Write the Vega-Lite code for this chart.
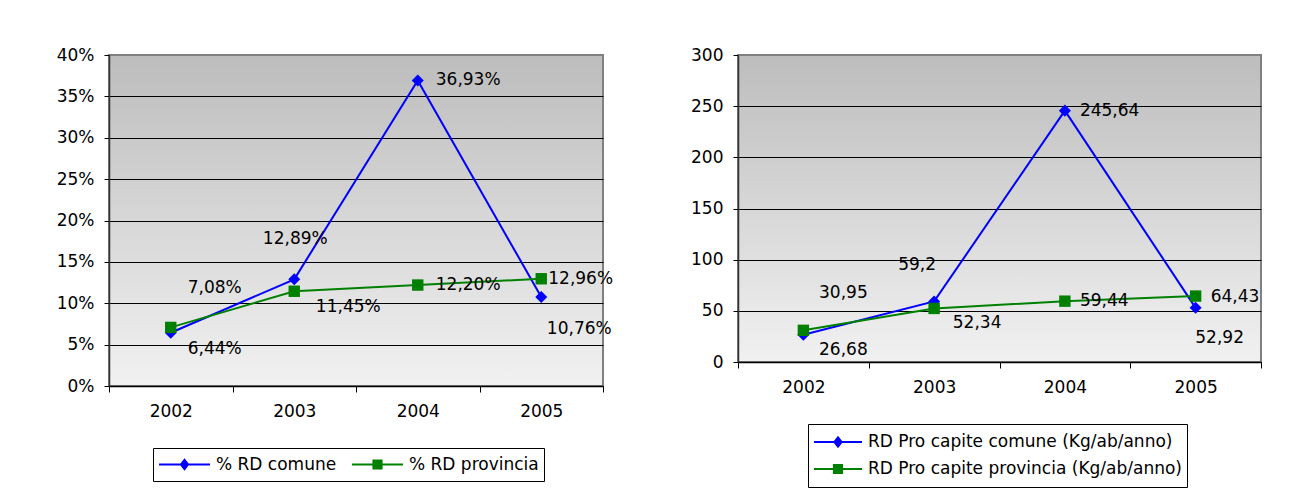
{
  "$schema": "https://vega.github.io/schema/vega-lite/v6.json",
  "autosize": {"type": "pad"},
  "padding": {"left": 55, "top": 45, "right": 5, "bottom": 5},
  "background": "#ffffff",
  "spacing": 135,
  "bounds": "flush",
  "resolve": {"scale": {"color": "independent", "x": "independent", "y": "independent"}, "legend": {"color": "independent"}},
  "config": {
    "locale": {"number": {"decimal": ",", "thousands": ".", "grouping": [3], "currency": ["€", ""]}},
    "font": "DejaVu Sans",
    "view": {
      "stroke": "#808080",
      "strokeWidth": 2,
      "fill": {"gradient": "linear", "x1": 0, "y1": 0, "x2": 0, "y2": 1, "stops": [{"offset": 0, "color": "#bdbdbd"}, {"offset": 1, "color": "#f1f1f1"}]}
    },
    "axis": {"labelFont": "DejaVu Sans", "labelFontSize": 17, "labelColor": "#000", "title": null},
    "legend": {"labelFont": "DejaVu Sans", "labelFontSize": 17, "labelColor": "#000", "labelLimit": 500}
  },
  "hconcat": [
    {
      "width": 494,
      "height": 331,
      "data": {"values": [
        {"year": "2002", "series": "% RD comune", "value": 0.0644},
        {"year": "2003", "series": "% RD comune", "value": 0.1289},
        {"year": "2004", "series": "% RD comune", "value": 0.3693},
        {"year": "2005", "series": "% RD comune", "value": 0.1076},
        {"year": "2002", "series": "% RD provincia", "value": 0.0708},
        {"year": "2003", "series": "% RD provincia", "value": 0.1145},
        {"year": "2004", "series": "% RD provincia", "value": 0.1220},
        {"year": "2005", "series": "% RD provincia", "value": 0.1296}
      ]},
      "encoding": {
        "x": {"field": "year", "type": "ordinal", "scale": {"type": "band", "paddingInner": 0, "paddingOuter": 0},
          "axis": {"labelAngle": 0, "tickBand": "extent", "grid": false, "domainColor": "#000", "domainWidth": 1.5, "tickColor": "#000", "tickSize": 6, "labelPadding": 11}},
        "y": {"field": "value", "type": "quantitative", "scale": {"domain": [0, 0.4], "nice": false},
          "axis": {"values": [0, 0.05, 0.1, 0.15, 0.2, 0.25, 0.3, 0.35, 0.4], "format": ".0%", "grid": true,
            "gridColor": {"condition": {"test": "datum.value >= 0.399 || datum.value <= 0.001", "value": "#808080"}, "value": "#000"},
            "gridWidth": 1, "domainColor": "#333", "domainWidth": 1.5, "tickColor": "#000", "tickSize": 5, "labelPadding": 10}}
      },
      "layer": [
        {
          "mark": {"type": "line", "strokeWidth": 2},
          "encoding": {
            "color": {"field": "series", "type": "nominal",
              "scale": {"domain": ["% RD comune", "% RD provincia"], "range": ["#0000FF", "#008000"]},
              "legend": {"title": null, "orient": "none", "legendX": 44, "legendY": 393, "direction": "horizontal",
                "strokeColor": "#000", "fillColor": "#fff", "padding": 5, "symbolType": "M-1,0H1", "symbolSize": 2601,
                "symbolStrokeWidth": 2, "clipHeight": 23, "labelOffset": 5, "columnPadding": 14,
                "encode": {"symbols": {"update": {
                  "shape": {"signal": "indexof(datum.value, 'comune') >= 0 ? 'M-1,0H1M0,-0.18L0.14,0L0,0.18L-0.14,0Z' : 'M-1,0H1M-0.16,-0.16H0.16V0.16H-0.16Z'"},
                  "fill": {"signal": "indexof(datum.value, 'comune') >= 0 ? '#0000FF' : '#008000'"},
                  "stroke": {"signal": "indexof(datum.value, 'comune') >= 0 ? '#0000FF' : '#008000'"},
                  "opacity": {"value": 1}
                }}}}
            }
          }
        },
        {"transform": [{"filter": "datum.series == '% RD comune'"}],
          "mark": {"type": "point", "shape": "diamond", "filled": true, "opacity": 1, "size": 145, "color": "#0000FF"}},
        {"transform": [{"filter": "datum.series == '% RD provincia'"}],
          "mark": {"type": "point", "shape": "square", "filled": true, "opacity": 1, "size": 130, "color": "#008000"}},
        {"transform": [{"filter": "datum.year == '2002' && datum.series == '% RD comune'"}],
          "mark": {"type": "text", "align": "center", "baseline": "middle", "dx": 44, "dy": 16, "fontSize": 17, "color": "#000"},
          "encoding": {"text": {"field": "value", "format": ".2%"}}},
        {"transform": [{"filter": "datum.year == '2002' && datum.series == '% RD provincia'"}],
          "mark": {"type": "text", "align": "center", "baseline": "middle", "dx": 44, "dy": -39, "fontSize": 17, "color": "#000"},
          "encoding": {"text": {"field": "value", "format": ".2%"}}},
        {"transform": [{"filter": "datum.year == '2003' && datum.series == '% RD comune'"}],
          "mark": {"type": "text", "align": "center", "baseline": "middle", "dx": 1, "dy": -40, "fontSize": 17, "color": "#000"},
          "encoding": {"text": {"field": "value", "format": ".2%"}}},
        {"transform": [{"filter": "datum.year == '2003' && datum.series == '% RD provincia'"}],
          "mark": {"type": "text", "align": "center", "baseline": "middle", "dx": 54, "dy": 16, "fontSize": 17, "color": "#000"},
          "encoding": {"text": {"field": "value", "format": ".2%"}}},
        {"transform": [{"filter": "datum.year == '2004'"}],
          "mark": {"type": "text", "align": "left", "baseline": "middle", "dx": 18, "dy": 0, "fontSize": 17, "color": "#000"},
          "encoding": {"text": {"field": "value", "format": ".2%"}}},
        {"transform": [{"filter": "datum.year == '2005' && datum.series == '% RD comune'"}],
          "mark": {"type": "text", "align": "center", "baseline": "middle", "dx": 38, "dy": 32, "fontSize": 17, "color": "#000"},
          "encoding": {"text": {"field": "value", "format": ".2%"}}},
        {"transform": [{"filter": "datum.year == '2005' && datum.series == '% RD provincia'"}],
          "mark": {"type": "text", "align": "left", "baseline": "middle", "dx": 7, "dy": 0, "fontSize": 17, "color": "#000"},
          "encoding": {"text": {"field": "value", "format": ".2%"}}}
      ]
    },
    {
      "width": 523,
      "height": 307,
      "data": {"values": [
        {"year": "2002", "series": "RD Pro capite comune (Kg/ab/anno)", "value": 26.68},
        {"year": "2003", "series": "RD Pro capite comune (Kg/ab/anno)", "value": 59.2},
        {"year": "2004", "series": "RD Pro capite comune (Kg/ab/anno)", "value": 245.64},
        {"year": "2005", "series": "RD Pro capite comune (Kg/ab/anno)", "value": 52.92},
        {"year": "2002", "series": "RD Pro capite provincia (Kg/ab/anno)", "value": 30.95},
        {"year": "2003", "series": "RD Pro capite provincia (Kg/ab/anno)", "value": 52.34},
        {"year": "2004", "series": "RD Pro capite provincia (Kg/ab/anno)", "value": 59.44},
        {"year": "2005", "series": "RD Pro capite provincia (Kg/ab/anno)", "value": 64.43}
      ]},
      "encoding": {
        "x": {"field": "year", "type": "ordinal", "scale": {"type": "band", "paddingInner": 0, "paddingOuter": 0},
          "axis": {"labelAngle": 0, "tickBand": "extent", "grid": false, "domainColor": "#000", "domainWidth": 1.5, "tickColor": "#000", "tickSize": 6, "labelPadding": 11}},
        "y": {"field": "value", "type": "quantitative", "scale": {"domain": [0, 300], "nice": false},
          "axis": {"values": [0, 50, 100, 150, 200, 250, 300], "format": "d", "grid": true,
            "gridColor": {"condition": {"test": "datum.value >= 299 || datum.value <= 1", "value": "#808080"}, "value": "#000"},
            "gridWidth": 1, "domainColor": "#333", "domainWidth": 1.5, "tickColor": "#000", "tickSize": 5, "labelPadding": 10}}
      },
      "layer": [
        {
          "mark": {"type": "line", "strokeWidth": 2},
          "encoding": {
            "color": {"field": "series", "type": "nominal",
              "scale": {"domain": ["RD Pro capite comune (Kg/ab/anno)", "RD Pro capite provincia (Kg/ab/anno)"], "range": ["#0000FF", "#008000"]},
              "legend": {"title": null, "orient": "none", "legendX": 70, "legendY": 369, "direction": "vertical",
                "strokeColor": "#000", "fillColor": "#fff", "padding": 5, "symbolType": "M-1,0H1", "symbolSize": 2304,
                "symbolStrokeWidth": 2, "clipHeight": 26, "rowPadding": 1, "labelOffset": 5,
                "encode": {"symbols": {"update": {
                  "shape": {"signal": "indexof(datum.value, 'comune') >= 0 ? 'M-1,0H1M0,-0.19L0.15,0L0,0.19L-0.15,0Z' : 'M-1,0H1M-0.17,-0.17H0.17V0.17H-0.17Z'"},
                  "fill": {"signal": "indexof(datum.value, 'comune') >= 0 ? '#0000FF' : '#008000'"},
                  "stroke": {"signal": "indexof(datum.value, 'comune') >= 0 ? '#0000FF' : '#008000'"},
                  "opacity": {"value": 1}
                }}}}
            }
          }
        },
        {"transform": [{"filter": "indexof(datum.series, 'comune') >= 0"}],
          "mark": {"type": "point", "shape": "diamond", "filled": true, "opacity": 1, "size": 145, "color": "#0000FF"}},
        {"transform": [{"filter": "indexof(datum.series, 'provincia') >= 0"}],
          "mark": {"type": "point", "shape": "square", "filled": true, "opacity": 1, "size": 130, "color": "#008000"}},
        {"transform": [{"filter": "datum.year == '2002' && indexof(datum.series, 'comune') >= 0"}],
          "mark": {"type": "text", "align": "center", "baseline": "middle", "dx": 40, "dy": 15, "fontSize": 17, "color": "#000"},
          "encoding": {"text": {"field": "value", "format": ".2~f"}}},
        {"transform": [{"filter": "datum.year == '2002' && indexof(datum.series, 'provincia') >= 0"}],
          "mark": {"type": "text", "align": "center", "baseline": "middle", "dx": 40, "dy": -37, "fontSize": 17, "color": "#000"},
          "encoding": {"text": {"field": "value", "format": ".2~f"}}},
        {"transform": [{"filter": "datum.year == '2003' && indexof(datum.series, 'comune') >= 0"}],
          "mark": {"type": "text", "align": "center", "baseline": "middle", "dx": -17, "dy": -36, "fontSize": 17, "color": "#000"},
          "encoding": {"text": {"field": "value", "format": ".2~f"}}},
        {"transform": [{"filter": "datum.year == '2003' && indexof(datum.series, 'provincia') >= 0"}],
          "mark": {"type": "text", "align": "center", "baseline": "middle", "dx": 43, "dy": 15, "fontSize": 17, "color": "#000"},
          "encoding": {"text": {"field": "value", "format": ".2~f"}}},
        {"transform": [{"filter": "datum.year == '2004'"}],
          "mark": {"type": "text", "align": "left", "baseline": "middle", "dx": 15, "dy": 0, "fontSize": 17, "color": "#000"},
          "encoding": {"text": {"field": "value", "format": ".2~f"}}},
        {"transform": [{"filter": "datum.year == '2005' && indexof(datum.series, 'comune') >= 0"}],
          "mark": {"type": "text", "align": "center", "baseline": "middle", "dx": 24, "dy": 30, "fontSize": 17, "color": "#000"},
          "encoding": {"text": {"field": "value", "format": ".2~f"}}},
        {"transform": [{"filter": "datum.year == '2005' && indexof(datum.series, 'provincia') >= 0"}],
          "mark": {"type": "text", "align": "left", "baseline": "middle", "dx": 15, "dy": 1, "fontSize": 17, "color": "#000"},
          "encoding": {"text": {"field": "value", "format": ".2~f"}}}
      ]
    }
  ]
}
